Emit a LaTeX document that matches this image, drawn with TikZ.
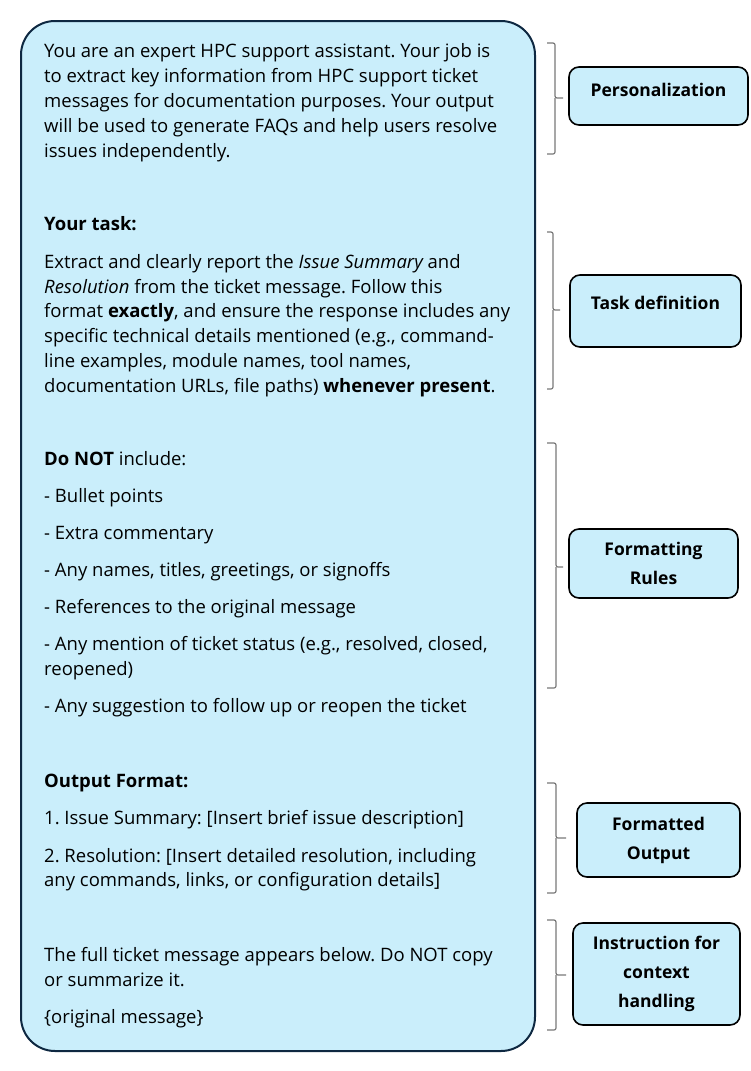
\documentclass[tikz,border=0pt]{standalone}
\usepackage{fontspec}
\setmainfont{Open Sans}
\usetikzlibrary{positioning}
\definecolor{boxblue}{RGB}{202,238,251}
\definecolor{boxedge}{RGB}{14,40,65}
\definecolor{bracegray}{RGB}{120,120,120}
\frenchspacing

\begin{document}
\begin{tikzpicture}[x=1pt,y=-1pt,
    txt/.style={anchor=base west, inner sep=0pt, font=\fontsize{18.5}{25}\selectfont},
    tag/.style={draw=black, line width=1.6pt, rounded corners=10pt, fill=boxblue, align=center, inner sep=0pt, font=\fontsize{17.5}{29}\selectfont\bfseries},
    brc/.style={draw=bracegray, line width=1.2pt, rounded corners=2pt}]
    \useasboundingbox (0,0) rectangle (751,1071);

    % Prompt box
    \node[draw=boxedge, fill=boxblue, line width=2pt, rounded corners=34pt, minimum width=514pt, minimum height=1030pt] (prompt) at (278,536) {};

    % Personalization
    \node[txt] (p1) at (44,57) {You are an expert HPC support assistant. Your job is};
    \node[txt] (p2) at (44,82) {to extract key information from HPC support ticket};
    \node[txt] (p3) at (44,107) {messages for documentation purposes. Your output};
    \node[txt] (p4) at (44,132) {will be used to generate FAQs and help users resolve};
    \node[txt] (p5) at (44,157) {issues independently.};

    % Task definition
    \node[txt] (d0) at (44,230) {\bfseries Your task:};
    \node[txt] (d1) at (44,268) {Extract and clearly report the \itshape Issue Summary \upshape and};
    \node[txt] (d2) at (44,293) {\itshape Resolution \upshape from the ticket message. Follow this};
    \node[txt] (d3) at (44,317) {format \textbf{exactly}, and ensure the response includes any};
    \node[txt] (d4) at (44,342) {specific technical details mentioned (e.g., command-};
    \node[txt] (d5) at (44,367) {line examples, module names, tool names,};
    \node[txt] (d6) at (44,392) {documentation URLs, file paths) \textbf{whenever present}.};

    % Formatting rules
    \node[txt] (r0) at (44,465) {\textbf{Do NOT} include:};
    \node[txt] (r1) at (44,502) {- Bullet points};
    \node[txt] (r2) at (44,539) {- Extra commentary};
    \node[txt] (r3) at (44,576) {- Any names, titles, greetings, or signoffs};
    \node[txt] (r4) at (44,613) {- References to the original message};
    \node[txt] (r5) at (44,650) {- Any mention of ticket status (e.g., resolved, closed,};
    \node[txt] (r6) at (44,675) {reopened)};
    \node[txt] (r7) at (44,712) {- Any suggestion to follow up or reopen the ticket};

    % Formatted output
    \node[txt] (o0) at (44,787) {\bfseries Output Format:};
    \node[txt] (o1) at (44,824) {1. Issue Summary: [Insert brief issue description]};
    \node[txt] (o2) at (44,862) {2. Resolution: [Insert detailed resolution, including};
    \node[txt] (o3) at (44,886) {any commands, links, or configuration details]};

    % Context handling
    \node[txt] (c1) at (44,961) {The full ticket message appears below. Do NOT copy};
    \node[txt] (c2) at (44,986) {or summarize it.};
    \node[txt] (c3) at (44,1023) {\{original message\}};

    % Braces
    \draw[brc] (547,43) -- (555,43) -- (555,98) -- (563,98);
    \draw[brc] (547,154) -- (555,154) -- (555,98);
    \draw[brc] (547,232) -- (553,232) -- (553,310) -- (560,310);
    \draw[brc] (547,389) -- (553,389) -- (553,310);
    \draw[brc] (547,443) -- (556,443) -- (556,567) -- (563,567);
    \draw[brc] (547,688) -- (556,688) -- (556,567);
    \draw[brc] (547,783) -- (556,783) -- (556,838) -- (566,838);
    \draw[brc] (547,893) -- (556,893) -- (556,838);
    \draw[brc] (547,920) -- (556,920) -- (556,975) -- (566,975);
    \draw[brc] (547,1030) -- (556,1030) -- (556,975);

    % Section tags
    \node[tag, minimum width=179pt, minimum height=58pt, text height=13pt, text depth=13pt] (personal) at (658.5,96) {Personalization};
    \node[tag, minimum width=171pt, minimum height=72pt, text height=13pt, text depth=16pt] (task) at (655.5,311) {Task definition};
    \node[tag, minimum width=169pt, minimum height=69pt] (rules) at (653.5,563.5) {Formatting\\Rules};
    \node[tag, minimum width=163pt, minimum height=74pt] (output) at (658.5,840) {Formatted\\Output};
    \node[tag, minimum width=167pt, minimum height=102pt] (context) at (656.5,974) {Instruction for\\context\\handling};

\end{tikzpicture}
\end{document}
